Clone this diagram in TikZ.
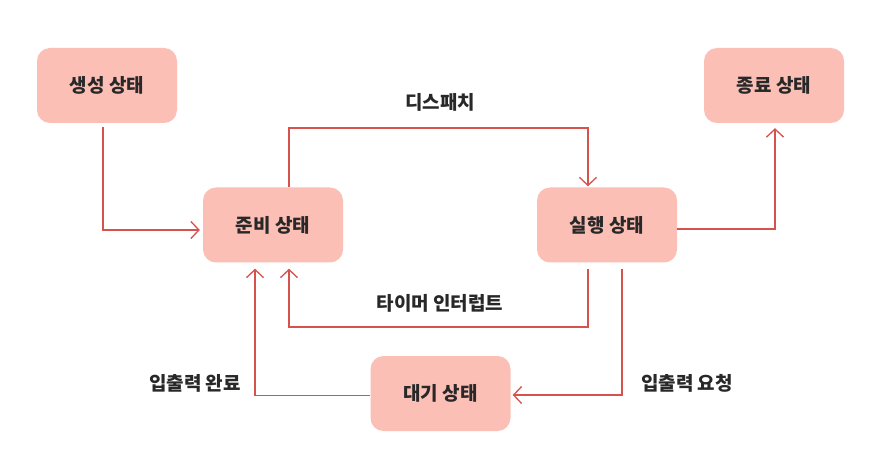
\documentclass[tikz,border=0pt]{standalone}
\usepackage{fontspec}
\setmainfont{Noto Sans CJK KR}
\usetikzlibrary{arrows.meta}
\definecolor{boxfill}{RGB}{251,191,181}
\definecolor{linered}{RGB}{214,82,76}
\definecolor{txt}{RGB}{40,40,40}
\tikzset{
  state/.style={rounded corners=13pt, fill=boxfill, minimum width=140pt, minimum height=75pt,
    font=\fontsize{19}{22}\selectfont\bfseries, text=txt, inner sep=0pt},
  lbl/.style={font=\fontsize{19}{22}\selectfont\bfseries, text=txt, inner sep=0pt},
  conn/.style={draw=linered, line width=1.3pt, -{Straight Barb[length=8pt,width=17pt,line width=1.3pt]}}
}
\begin{document}
\begin{tikzpicture}[x=1pt,y=-1pt]
\useasboundingbox[fill=white] (0,0) rectangle (889,454);
\node[state] (gen)  at (107,85.5) {생성 상태};
\node[state] (ready) at (273,225) {준비 상태};
\node[state] (run)  at (607,225) {실행 상태};
\node[state] (term) at (774,85.5) {종료 상태};
\node[state] (wait) at (440.5,393.5) {대기 상태};

\node[lbl] (ldisp) at (440,102) {디스패치};
\node[lbl] (ltimer) at (440,303) {타이머 인터럽트};
\node[lbl] (ldone) at (195,383) {입출력 완료};
\node[lbl] (lreq) at (687,383) {입출력 요청};

\draw[conn, shorten <=4pt, shorten >=3pt] ([xshift=-4pt]gen.south) |- ([yshift=-5pt]ready.west);
\draw[conn, shorten >=1pt] ([xshift=16pt]ready.north) -- ([xshift=16pt]ready.north |- 0,128) -| ([xshift=-19pt]run.north);
\draw[conn, shorten >=5pt] ([yshift=-4pt]run.east) -| ([xshift=1pt]term.south);
\draw[conn, shorten <=6pt, shorten >=6pt] ([xshift=-19pt]run.south) -- ([xshift=-19pt]run.south |- 0,327) -| ([xshift=16pt]ready.south);
\draw[conn, shorten <=6pt, shorten >=2pt] ([xshift=15pt]run.south) |- ([yshift=-1.5pt]wait.east);
\draw[conn, shorten >=6pt] ([yshift=-2pt]wait.west) -| ([xshift=-18pt]ready.south);
\end{tikzpicture}
\end{document}
